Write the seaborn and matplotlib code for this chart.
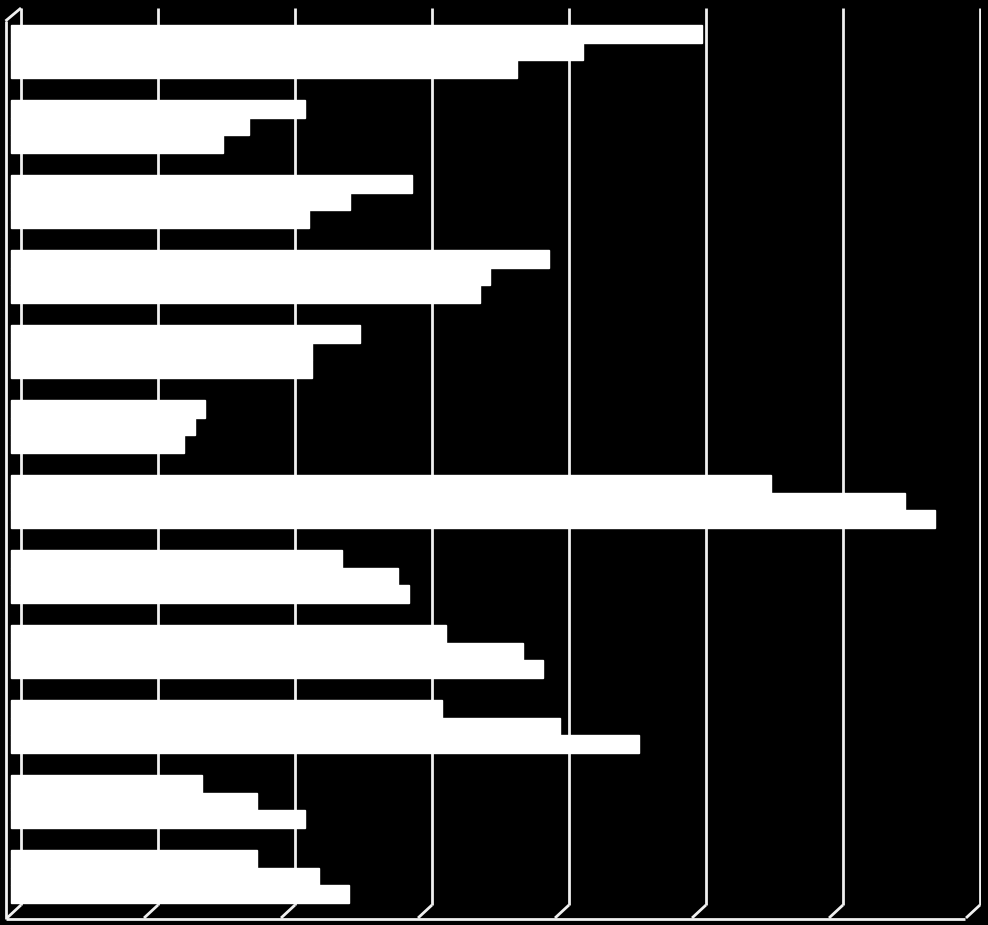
import pandas as pd
import matplotlib
matplotlib.use('Agg')
import matplotlib.pyplot as plt
import seaborn as sns

# data (one gridline = 10 units)
groups = [f'G{i}' for i in range(1, 13)]
series_a = [50.5, 21.5, 29.3, 39.3, 25.5, 14.2, 55.5, 24.2, 31.8, 31.5, 14.0, 18.0]
series_b = [41.8, 17.4, 24.8, 35.0, 22.0, 13.5, 65.3, 28.3, 37.4, 40.1, 18.0, 22.5]
series_c = [37.0, 15.5, 21.8, 34.3, 22.0, 12.7, 67.5, 29.1, 38.9, 45.9, 21.5, 24.7]
grid_values = [0, 10, 20, 30, 40, 50, 60, 70]

df = pd.DataFrame({
    'group': groups * 3,
    'series': ['A'] * 12 + ['B'] * 12 + ['C'] * 12,
    'value': series_a + series_b + series_c,
})

sns.set_style('dark')
plt.rcParams['font.family'] = ['DejaVu Sans']

fig = plt.figure(figsize=(9.88, 9.25), dpi=100, facecolor='black')
W, H = 988, 925
left_px, right_px, top_px, bottom_px = 3, 981, 7, 921
ax = fig.add_axes([left_px / W, 1 - bottom_px / H,
                   (right_px - left_px) / W, (bottom_px - top_px) / H])
ax.set_facecolor('black')

# pixel -> data helpers for the fake 3d frame
X0, XS = 10.5, 13.7    # pixel of value 0, pixels per unit
Y0, YS = 51.5, 75.0    # pixel of first group centre, pixels per group


def px(x):
    return (x - X0) / XS


def py(y):
    return (y - Y0) / YS


depth = px(21) - px(7)
line_kw = dict(color='#f0f0f0', lw=2, solid_capstyle='butt', zorder=1)

# back wall gridlines + floor ticks
for g in grid_values:
    xb = g + px(21)
    ax.plot([xb, xb], [py(8), py(905)], **line_kw)
    ax.plot([xb, xb - depth], [py(905), py(918)], **line_kw)

# front floor edge and left wall
ax.plot([px(5.5), px(965)], [py(918.5), py(918.5)], **line_kw)
ax.plot([px(5.5), px(5.5)], [py(21), py(919)], **line_kw)
ax.plot([px(5.5), px(21)], [py(21), py(8)], **line_kw)

sns.barplot(data=df, y='group', x='value', hue='series', orient='h',
            palette=['white', 'white', 'white'], saturation=1,
            width=0.707, gap=0, legend=False, ax=ax, zorder=3,
            edgecolor='white', linewidth=1.0)

ax.set_xlim(px(left_px), px(right_px))
ax.set_ylim(py(bottom_px), py(top_px))
ax.set_xlabel('')
ax.set_ylabel('')
ax.set_xticks([])
ax.set_yticks([])
ax.grid(False)
for s in ax.spines.values():
    s.set_visible(False)

fig.savefig('out.png', dpi=100, facecolor='black')
